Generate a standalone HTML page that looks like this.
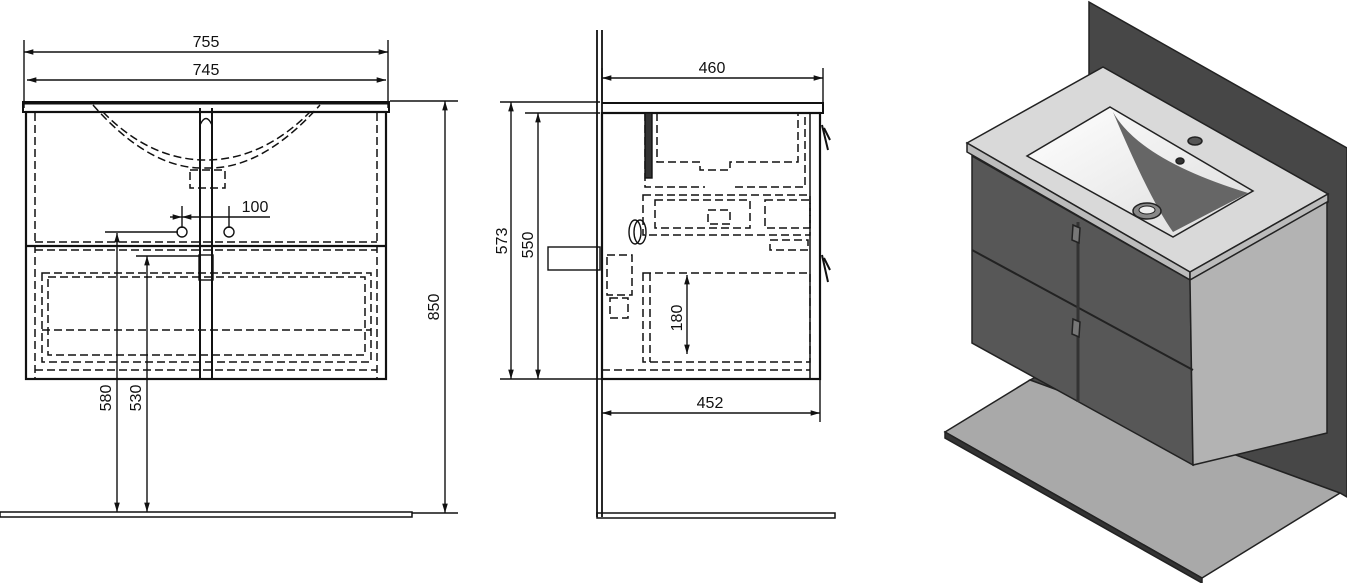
<!DOCTYPE html>
<html><head><meta charset="utf-8"><style>
html,body{margin:0;padding:0;background:#fff;width:1347px;height:583px;overflow:hidden}
svg{display:block}
text{font-family:"Liberation Sans",sans-serif;font-size:16px;fill:#111}
</style></head><body>
<svg width="1347" height="583" viewBox="0 0 1347 583" xmlns="http://www.w3.org/2000/svg">
<defs>
<marker id="a" viewBox="0 0 10 6" refX="10" refY="3" markerWidth="7" markerHeight="4" orient="auto-start-reverse"><path d="M0,0L10,3L0,6z" fill="#111"/></marker>
<linearGradient id="bg" x1="0" y1="0" x2="1" y2="1"><stop offset="0" stop-color="#fff"/><stop offset="1" stop-color="#ddd"/></linearGradient>
</defs>
<g stroke="#111" fill="none" stroke-width="1.4">
<!-- FRONT VIEW -->
<line x1="24" y1="40" x2="24" y2="108"/><line x1="388" y1="40" x2="388" y2="108"/>
<line x1="24" y1="52" x2="388" y2="52" marker-start="url(#a)" marker-end="url(#a)"/>
<line x1="27" y1="80" x2="386" y2="80" marker-start="url(#a)" marker-end="url(#a)"/>
<rect x="23" y="102" width="366" height="10" stroke-width="2"/>
<line x1="23" y1="103" x2="389" y2="103" stroke-width="3"/>
<rect x="26" y="112" width="360" height="267" stroke-width="2.2"/>
<line x1="26" y1="246" x2="386" y2="246" stroke-width="2.2"/>
<g stroke-dasharray="8,4" stroke-width="1.5">
<line x1="35" y1="113" x2="35" y2="379"/><line x1="377" y1="113" x2="377" y2="379"/>
<line x1="35" y1="242" x2="377" y2="242"/><line x1="35" y1="250" x2="377" y2="250"/>
<line x1="35" y1="370" x2="377" y2="370"/>
<rect x="42" y="273" width="329" height="89"/>
<rect x="48" y="277" width="317" height="78"/>
<line x1="42" y1="330" x2="371" y2="330"/>
<path d="M93,105 Q150,170 206,168 Q262,170 320,105"/>
<path d="M103,112 Q150,160 206,160 Q262,160 310,112"/>
<rect x="190" y="170" width="35" height="18"/>
</g>
<line x1="200" y1="108" x2="200" y2="379" stroke-width="2"/>
<line x1="212" y1="108" x2="212" y2="379" stroke-width="2"/>
<path d="M200,125 Q206,112 212,125" />
<rect x="199" y="255" width="14" height="25"/>
<circle cx="182" cy="232" r="5"/><circle cx="229" cy="232" r="5"/>
<line x1="182" y1="206" x2="182" y2="228"/><line x1="229" y1="206" x2="229" y2="228"/>
<line x1="170" y1="217" x2="182" y2="217" marker-end="url(#a)"/>
<line x1="182" y1="217" x2="270" y2="217" marker-start="url(#a)"/>
<line x1="105" y1="232" x2="178" y2="232"/>
<line x1="136" y1="256" x2="200" y2="256"/>
<line x1="117" y1="233" x2="117" y2="512" marker-start="url(#a)" marker-end="url(#a)"/>
<line x1="147" y1="256" x2="147" y2="512" marker-start="url(#a)" marker-end="url(#a)"/>
<line x1="390" y1="101" x2="458" y2="101"/>
<line x1="412" y1="513" x2="458" y2="513"/>
<line x1="445" y1="101" x2="445" y2="513" marker-start="url(#a)" marker-end="url(#a)"/>
<rect x="0" y="512" width="412" height="5" stroke-width="1.5"/>
<!-- SIDE VIEW -->
<line x1="597" y1="30" x2="597" y2="517" stroke-width="1.8"/>
<line x1="602" y1="30" x2="602" y2="517" stroke-width="1.8"/>
<rect x="597" y="513" width="238" height="5" stroke-width="1.5"/>
<path d="M602,103 L823,103 L823,113 L602,113" stroke-width="2"/>
<rect x="602" y="113" width="218" height="266" stroke-width="2.2"/>
<line x1="810" y1="113" x2="810" y2="379" stroke-width="1.5"/>
<line x1="602" y1="370" x2="810" y2="370" stroke-dasharray="8,4"/>
<line x1="602" y1="68" x2="602" y2="100"/><line x1="823" y1="68" x2="823" y2="103"/>
<line x1="602" y1="78" x2="823" y2="78" marker-start="url(#a)" marker-end="url(#a)"/>
<line x1="820" y1="379" x2="820" y2="422"/>
<line x1="602" y1="413" x2="820" y2="413" marker-start="url(#a)" marker-end="url(#a)"/>
<line x1="500" y1="102" x2="600" y2="102"/><line x1="525" y1="113" x2="600" y2="113"/>
<line x1="500" y1="379" x2="602" y2="379"/>
<line x1="511" y1="102" x2="511" y2="379" marker-start="url(#a)" marker-end="url(#a)"/>
<line x1="538" y1="113" x2="538" y2="379" marker-start="url(#a)" marker-end="url(#a)"/>
<rect x="548" y="247" width="52" height="23"/>
<g stroke-dasharray="8,4" stroke-width="1.5">
<path d="M657,113 V162 H700 V170 H730 V162 H798 V113"/>
<path d="M645,113 V187 H705 M735,187 H805 V113"/>
<rect x="643" y="195" width="167" height="40"/>
<rect x="655" y="200" width="95" height="28"/>
<rect x="765" y="200" width="45" height="28"/>
<rect x="770" y="240" width="38" height="10"/>
<rect x="643" y="273" width="167" height="89"/>
<line x1="650" y1="273" x2="650" y2="362"/>
<rect x="607" y="255" width="25" height="40"/>
<rect x="610" y="298" width="18" height="20"/>
<rect x="708" y="210" width="22" height="14"/>
</g>
<rect x="645" y="113" width="7" height="65" fill="#333"/>
<ellipse cx="635" cy="232" rx="6" ry="12"/><ellipse cx="640" cy="232" rx="6" ry="12"/>
<line x1="687" y1="275" x2="687" y2="354" marker-start="url(#a)" marker-end="url(#a)"/>
<path d="M822,125 L828,150 M824,128 L830,140" stroke-width="2"/>
<path d="M822,255 L828,282 M824,258 L830,270" stroke-width="2"/>
</g>
<text x="206" y="47" text-anchor="middle">755</text>
<text x="206" y="75" text-anchor="middle">745</text>
<text x="255" y="212" text-anchor="middle">100</text>
<text transform="translate(439,307) rotate(-90)" text-anchor="middle">850</text>
<text transform="translate(111,398) rotate(-90)" text-anchor="middle">580</text>
<text transform="translate(141,398) rotate(-90)" text-anchor="middle">530</text>
<text x="712" y="73" text-anchor="middle">460</text>
<text x="710" y="408" text-anchor="middle">452</text>
<text transform="translate(507,241) rotate(-90)" text-anchor="middle">573</text>
<text transform="translate(533,245) rotate(-90)" text-anchor="middle">550</text>
<text transform="translate(682,318) rotate(-90)" text-anchor="middle">180</text>
<!-- 3D VIEW -->
<g stroke="#222" stroke-width="1.5">
<polygon points="1089,2 1347,148 1347,497 1340,493 1030,380 1089,350" fill="#474747"/>
<polygon points="945,432 1030,380 1340,493 1202,578" fill="#a9a9a9"/>
<polygon points="945,432 1202,578 1202,583 945,438" fill="#333"/>
<polygon points="967,143 1103,67 1328,194 1190,272" fill="#d9d9d9"/>
<polygon points="967,143 1190,272 1190,280 967,152" fill="#bbb"/>
<polygon points="1190,272 1328,194 1328,202 1190,280" fill="#bbb"/>
<polygon points="972,156 1190,280 1193,465 972,343" fill="#575757"/>
<polygon points="1190,280 1327,202 1327,433 1193,465" fill="#b3b3b3"/>
<line x1="972" y1="250" x2="1193" y2="370" stroke-width="2"/>
<line x1="1078" y1="222" x2="1078" y2="402" stroke-width="3" stroke="#333"/>
<polygon points="1110,107 1253,191 1173,237 1027,156" fill="url(#bg)"/>
<path d="M1113,112 Q1140,160 1248,193 L1173,232 Q1150,200 1113,112z" fill="#666" stroke="none"/>
<ellipse cx="1147" cy="211" rx="14" ry="8" fill="#888"/>
<ellipse cx="1147" cy="210" rx="8" ry="4" fill="#eee" stroke-width="1"/>
<ellipse cx="1195" cy="141" rx="7" ry="4" fill="#555"/>
<ellipse cx="1180" cy="161" rx="4" ry="3" fill="#333"/>
<polygon points="1073,225 1080,228 1079,243 1072,240" fill="#777"/>
<polygon points="1073,319 1080,322 1079,337 1072,334" fill="#777"/>
</g>
</svg>
</body></html>
